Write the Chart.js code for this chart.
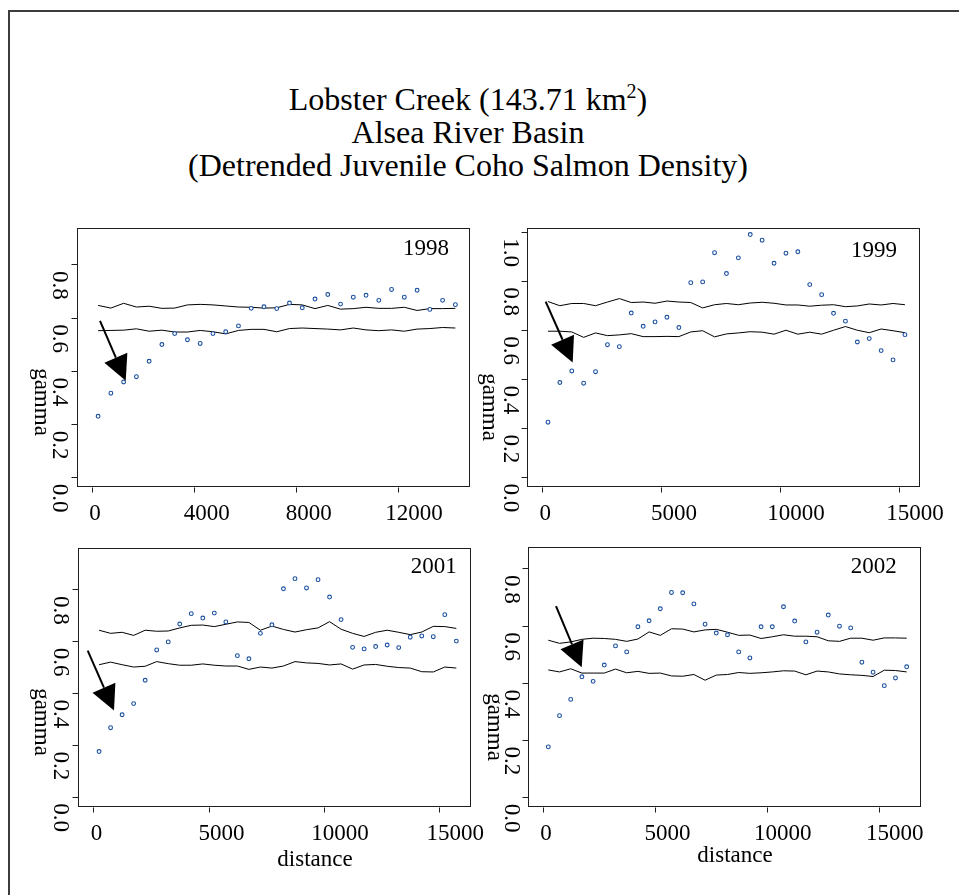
<!DOCTYPE html>
<html>
<head>
<meta charset="utf-8">
<script src="https://cdn.jsdelivr.net/npm/chart.js@4.4.1/dist/chart.umd.min.js"></script>
<style>
  html, body { margin: 0; padding: 0; background: #fff; }
  #page { position: relative; width: 959px; height: 895px; overflow: hidden; background: #fff; }
  #page canvas { position: absolute; left: 0; top: 0; }
  #frame { position: absolute; left: 8px; top: 10px; width: 2000px; height: 2000px;
           border-top: 2px solid #3c3c3c; border-left: 2px solid #3c3c3c; }
  #title { position: absolute; left: 0; top: 83px; width: 936px; text-align: center;
           font-family: "Liberation Serif", "Times New Roman", serif; font-size: 32px;
           line-height: 33px; color: #000; }
  #title sup { font-size: 20px; line-height: 0; vertical-align: 12px; }
</style>
</head>
<body>
<div id="page">
  <div id="frame"></div>
  <div id="title">Lobster Creek (143.71 km<sup>2</sup>)<br>Alsea River Basin<br>(Detrended Juvenile Coho Salmon Density)</div>
  <canvas id="c1998" width="959" height="895"></canvas>
  <canvas id="c1999" width="959" height="895"></canvas>
  <canvas id="c2001" width="959" height="895"></canvas>
  <canvas id="c2002" width="959" height="895"></canvas>
</div>
<script>
// Lag-bin centres (m) of the empirical variograms
const lagCentres = [250, 750, 1250, 1750, 2250, 2750, 3250, 3750, 4250, 4750, 5250,
  5750, 6250, 6750, 7250, 7750, 8250, 8750, 9250, 9750, 10250, 10750, 11250, 11750,
  12250, 12750, 13250, 13750, 14250, 14750, 15250, 15750, 16250];

// Empirical semivariance and Monte Carlo envelope (upper / lower), per survey year
const gamma1998 = [0.229, 0.316, 0.358, 0.378, 0.436, 0.499, 0.540, 0.517, 0.503, 0.540,
  0.547, 0.569, 0.635, 0.641, 0.634, 0.655, 0.637, 0.670, 0.687, 0.651, 0.677, 0.684,
  0.665, 0.706, 0.677, 0.703, 0.631, 0.665, 0.649];
const upper1998 = [0.646, 0.636, 0.654, 0.640, 0.643, 0.635, 0.636, 0.648, 0.650, 0.648,
  0.644, 0.640, 0.639, 0.636, 0.637, 0.650, 0.648, 0.634, 0.646, 0.632, 0.634, 0.639,
  0.635, 0.635, 0.639, 0.627, 0.634, 0.634, 0.635];
const lower1998 = [0.551, 0.552, 0.553, 0.558, 0.549, 0.553, 0.546, 0.546, 0.552, 0.547,
  0.539, 0.552, 0.556, 0.556, 0.547, 0.559, 0.561, 0.559, 0.557, 0.554, 0.561, 0.554,
  0.551, 0.554, 0.549, 0.557, 0.559, 0.563, 0.561];

const gamma1999 = [0.223, 0.385, 0.432, 0.382, 0.429, 0.539, 0.531, 0.668, 0.614, 0.632,
  0.651, 0.609, 0.792, 0.795, 0.914, 0.829, 0.893, 0.988, 0.965, 0.871, 0.912, 0.918,
  0.784, 0.743, 0.667, 0.635, 0.550, 0.564, 0.515, 0.477, 0.580];
const upper1999 = [0.715, 0.698, 0.707, 0.707, 0.698, 0.713, 0.727, 0.711, 0.713, 0.708,
  0.717, 0.713, 0.711, 0.689, 0.702, 0.707, 0.702, 0.709, 0.712, 0.708, 0.701, 0.701,
  0.696, 0.700, 0.702, 0.694, 0.697, 0.705, 0.701, 0.707, 0.702];
const lower1999 = [0.594, 0.594, 0.591, 0.569, 0.587, 0.576, 0.579, 0.584, 0.572, 0.572,
  0.573, 0.572, 0.591, 0.596, 0.571, 0.583, 0.587, 0.592, 0.590, 0.582, 0.598, 0.582,
  0.590, 0.582, 0.598, 0.613, 0.598, 0.588, 0.603, 0.596, 0.588];

const gamma2001 = [0.174, 0.266, 0.316, 0.359, 0.449, 0.566, 0.597, 0.666, 0.706, 0.689,
  0.708, 0.674, 0.544, 0.532, 0.630, 0.663, 0.802, 0.841, 0.805, 0.837, 0.770, 0.683,
  0.576, 0.570, 0.579, 0.585, 0.575, 0.615, 0.620, 0.617, 0.702, 0.600];
const upper2001 = [0.642, 0.630, 0.634, 0.622, 0.642, 0.638, 0.639, 0.651, 0.661, 0.662,
  0.656, 0.665, 0.674, 0.672, 0.642, 0.658, 0.645, 0.635, 0.644, 0.651, 0.675, 0.646,
  0.630, 0.618, 0.634, 0.642, 0.634, 0.625, 0.635, 0.657, 0.656, 0.649];
const lower2001 = [0.509, 0.519, 0.509, 0.500, 0.503, 0.521, 0.513, 0.507, 0.507, 0.512,
  0.507, 0.504, 0.504, 0.491, 0.500, 0.496, 0.504, 0.521, 0.516, 0.514, 0.508, 0.512,
  0.492, 0.508, 0.510, 0.503, 0.498, 0.496, 0.482, 0.481, 0.500, 0.496];

const gamma2002 = [0.176, 0.285, 0.342, 0.421, 0.405, 0.462, 0.529, 0.508, 0.596, 0.617,
  0.659, 0.716, 0.715, 0.676, 0.605, 0.574, 0.568, 0.508, 0.487, 0.596, 0.596, 0.666,
  0.616, 0.543, 0.577, 0.637, 0.598, 0.592, 0.472, 0.437, 0.390, 0.417, 0.456];
const upper2002 = [0.549, 0.538, 0.543, 0.552, 0.556, 0.555, 0.552, 0.545, 0.553, 0.578,
  0.566, 0.589, 0.588, 0.578, 0.585, 0.587, 0.577, 0.566, 0.567, 0.555, 0.561, 0.568,
  0.563, 0.563, 0.561, 0.547, 0.545, 0.556, 0.556, 0.549, 0.557, 0.557, 0.556];
const lower2002 = [0.445, 0.438, 0.449, 0.434, 0.434, 0.434, 0.448, 0.435, 0.440, 0.433,
  0.434, 0.424, 0.423, 0.429, 0.409, 0.427, 0.429, 0.436, 0.433, 0.435, 0.438, 0.442,
  0.441, 0.428, 0.441, 0.438, 0.431, 0.428, 0.426, 0.422, 0.444, 0.443, 0.438];

// Arrows marking the range of autocorrelation: [x0, y0, xTip, yTip] in data units
const arrow1998 = [325, 0.588, 1333, 0.363];
const arrow1999 = [155, 0.715, 1289, 0.466];
const arrow2001 = [-243, 0.563, 898, 0.332];
const arrow2002 = [594, 0.668, 1741, 0.454];

// Axis ticks
const xTicks1998 = [0, 4000, 8000, 12000];
const xTickLabels1998 = ['0', '4000', '8000', '12000'];
const xTicksWide = [0, 5000, 10000, 15000];
const xTickLabelsWide = ['0', '5000', '10000', '15000'];
const yTicksTo08 = [0, 0.2, 0.4, 0.6, 0.8];
const yTickLabelsTo08 = ['0.0', '0.2', '0.4', '0.6', '0.8'];
const yTicksTo10 = [0, 0.2, 0.4, 0.6, 0.8, 1.0];
const yTickLabelsTo10 = ['0.0', '0.2', '0.4', '0.6', '0.8', '1.0'];

const SERIF = '"Liberation Serif", "Times New Roman", serif';

// Panel layout: plot box [left, top, right, bottom], axis ranges and label placement
const panels = [
  { canvas: 'c1998', year: '1998', gamma: gamma1998, upper: upper1998, lower: lower1998, arrow: arrow1998,
    box: [77.3, 228.3, 469.3, 486], xr: [-565, 14796], yr: [-0.033, 0.936],
    xTicks: xTicks1998, xLabels: xTickLabels1998, yTicks: yTicksTo08, yLabels: yTickLabelsTo08,
    yearPos: [449, 254.5], xLabBase: 520, yLabX: 53, gammaPos: [35, 402], distPos: null },
  { canvas: 'c1999', year: '1999', gamma: gamma1999, upper: upper1999, lower: lower1999, arrow: arrow1999,
    box: [526.7, 227.7, 918.7, 486], xr: [-643, 15828], yr: [-0.037, 1.016],
    xTicks: xTicksWide, xLabels: xTickLabelsWide, yTicks: yTicksTo10, yLabels: yTickLabelsTo10,
    yearPos: [897, 257], xLabBase: 520, yLabX: 503.5, gammaPos: [483, 407], distPos: null },
  { canvas: 'c2001', year: '2001', gamma: gamma2001, upper: upper2001, lower: lower2001, arrow: arrow2001,
    box: [78.3, 548.3, 470, 806], xr: [-651, 16343], yr: [-0.036, 0.958],
    xTicks: xTicksWide, xLabels: xTickLabelsWide, yTicks: yTicksTo08, yLabels: yTickLabelsTo08,
    yearPos: [456.7, 573.3], xLabBase: 840, yLabX: 54, gammaPos: [35, 722], distPos: [315, 866] },
  { canvas: 'c2002', year: '2002', gamma: gamma2002, upper: upper2002, lower: lower2002, arrow: arrow2002,
    box: [527.7, 547.3, 920, 806], xr: [-670, 16845], yr: [-0.031, 0.874],
    xTicks: xTicksWide, xLabels: xTickLabelsWide, yTicks: yTicksTo08, yLabels: yTickLabelsTo08,
    yearPos: [896.7, 573.3], xLabBase: 840, yLabX: 505, gammaPos: [488, 727], distPos: [735, 862] }
];

// Box, ticks, rotated labels, year tag and arrow, drawn in the style of base R graphics
const rFrame = {
  id: 'rFrame',
  afterDraw(chart, args, o) {
    const { ctx, chartArea: a } = chart;
    const xs = chart.scales.x, ys = chart.scales.y;
    const L = Math.round(a.left) + 0.5, R = Math.round(a.right) + 0.5;
    const T = Math.round(a.top) + 0.5, B = Math.round(a.bottom) + 0.5;
    ctx.save();
    ctx.strokeStyle = '#1e1e1e';
    ctx.lineWidth = 1;
    ctx.strokeRect(L, T, R - L, B - T);

    ctx.beginPath();
    o.yTicks.forEach(v => {
      const py = Math.round(ys.getPixelForValue(v)) + 0.5;
      ctx.moveTo(L - 6, py); ctx.lineTo(L, py);
    });
    o.xTicks.forEach(v => {
      const px = Math.round(xs.getPixelForValue(v)) + 0.5;
      ctx.moveTo(px, B + 1); ctx.lineTo(px, B + 6);
    });
    ctx.stroke();

    ctx.fillStyle = '#000';
    ctx.font = '23px ' + SERIF;
    ctx.textBaseline = 'alphabetic';
    // distance tick labels
    ctx.textAlign = 'left';
    o.xTicks.forEach((v, i) => {
      const s = o.xLabels[i];
      const w = ctx.measureText(s).width;
      ctx.fillText(s, xs.getPixelForValue(v) - 0.22 * w, o.xLabBase);
    });
    // year tag
    ctx.textAlign = 'right';
    ctx.fillText(o.year, o.yearPos[0], o.yearPos[1]);
    // x title
    if (o.distPos) {
      ctx.textAlign = 'center';
      ctx.fillText('distance', o.distPos[0], o.distPos[1]);
    }
    // rotated y tick labels and y title
    ctx.textAlign = 'center';
    o.yTicks.forEach((v, i) => {
      ctx.save();
      ctx.translate(o.yLabX, ys.getPixelForValue(v) + 21);
      ctx.rotate(Math.PI / 2);
      ctx.fillText(o.yLabels[i], 0, 0);
      ctx.restore();
    });
    ctx.save();
    ctx.translate(o.gammaPos[0], o.gammaPos[1]);
    ctx.rotate(Math.PI / 2);
    ctx.fillText('gamma', 0, 0);
    ctx.restore();

    // arrow
    const x0 = xs.getPixelForValue(o.arrow[0]), y0 = ys.getPixelForValue(o.arrow[1]);
    const x1 = xs.getPixelForValue(o.arrow[2]), y1 = ys.getPixelForValue(o.arrow[3]);
    const len = Math.hypot(x1 - x0, y1 - y0);
    const ux = (x1 - x0) / len, uy = (y1 - y0) / len;
    const headLen = 25, halfW = 12.5;
    const bx = x1 - ux * headLen, by = y1 - uy * headLen;
    ctx.strokeStyle = '#000';
    ctx.lineWidth = 2;
    ctx.beginPath(); ctx.moveTo(x0, y0); ctx.lineTo(bx, by); ctx.stroke();
    ctx.beginPath();
    ctx.moveTo(x1, y1);
    ctx.lineTo(bx - uy * halfW, by + ux * halfW);
    ctx.lineTo(bx + uy * halfW, by - ux * halfW);
    ctx.closePath();
    ctx.fillStyle = '#000';
    ctx.fill();
    ctx.restore();
  }
};

function toPoints(values) {
  return values.map((v, i) => ({ x: lagCentres[i], y: v }));
}

panels.forEach(p => {
  new Chart(document.getElementById(p.canvas), {
    type: 'scatter',
    data: {
      datasets: [
        { label: 'semivariance', data: toPoints(p.gamma), showLine: false,
          pointRadius: 1.9, pointBorderWidth: 1.1, pointBorderColor: '#1a50a0',
          pointBackgroundColor: '#ffffff', order: 0 },
        { label: 'upper envelope', data: toPoints(p.upper), showLine: true, borderColor: '#000',
          borderWidth: 1, pointRadius: 0, tension: 0, order: 1 },
        { label: 'lower envelope', data: toPoints(p.lower), showLine: true, borderColor: '#000',
          borderWidth: 1, pointRadius: 0, tension: 0, order: 1 }
      ]
    },
    options: {
      responsive: false,
      animation: false,
      devicePixelRatio: 1,
      events: [],
      layout: { padding: { left: p.box[0], top: p.box[1], right: 959 - p.box[2], bottom: 895 - p.box[3] } },
      scales: {
        x: { type: 'linear', min: p.xr[0], max: p.xr[1], display: false },
        y: { type: 'linear', min: p.yr[0], max: p.yr[1], display: false }
      },
      plugins: {
        legend: { display: false },
        tooltip: { enabled: false },
        rFrame: {
          year: p.year, arrow: p.arrow, xTicks: p.xTicks, xLabels: p.xLabels,
          yTicks: p.yTicks, yLabels: p.yLabels, yearPos: p.yearPos, xLabBase: p.xLabBase,
          yLabX: p.yLabX, gammaPos: p.gammaPos, distPos: p.distPos
        }
      }
    },
    plugins: [rFrame]
  });
});
</script>
</body>
</html>
